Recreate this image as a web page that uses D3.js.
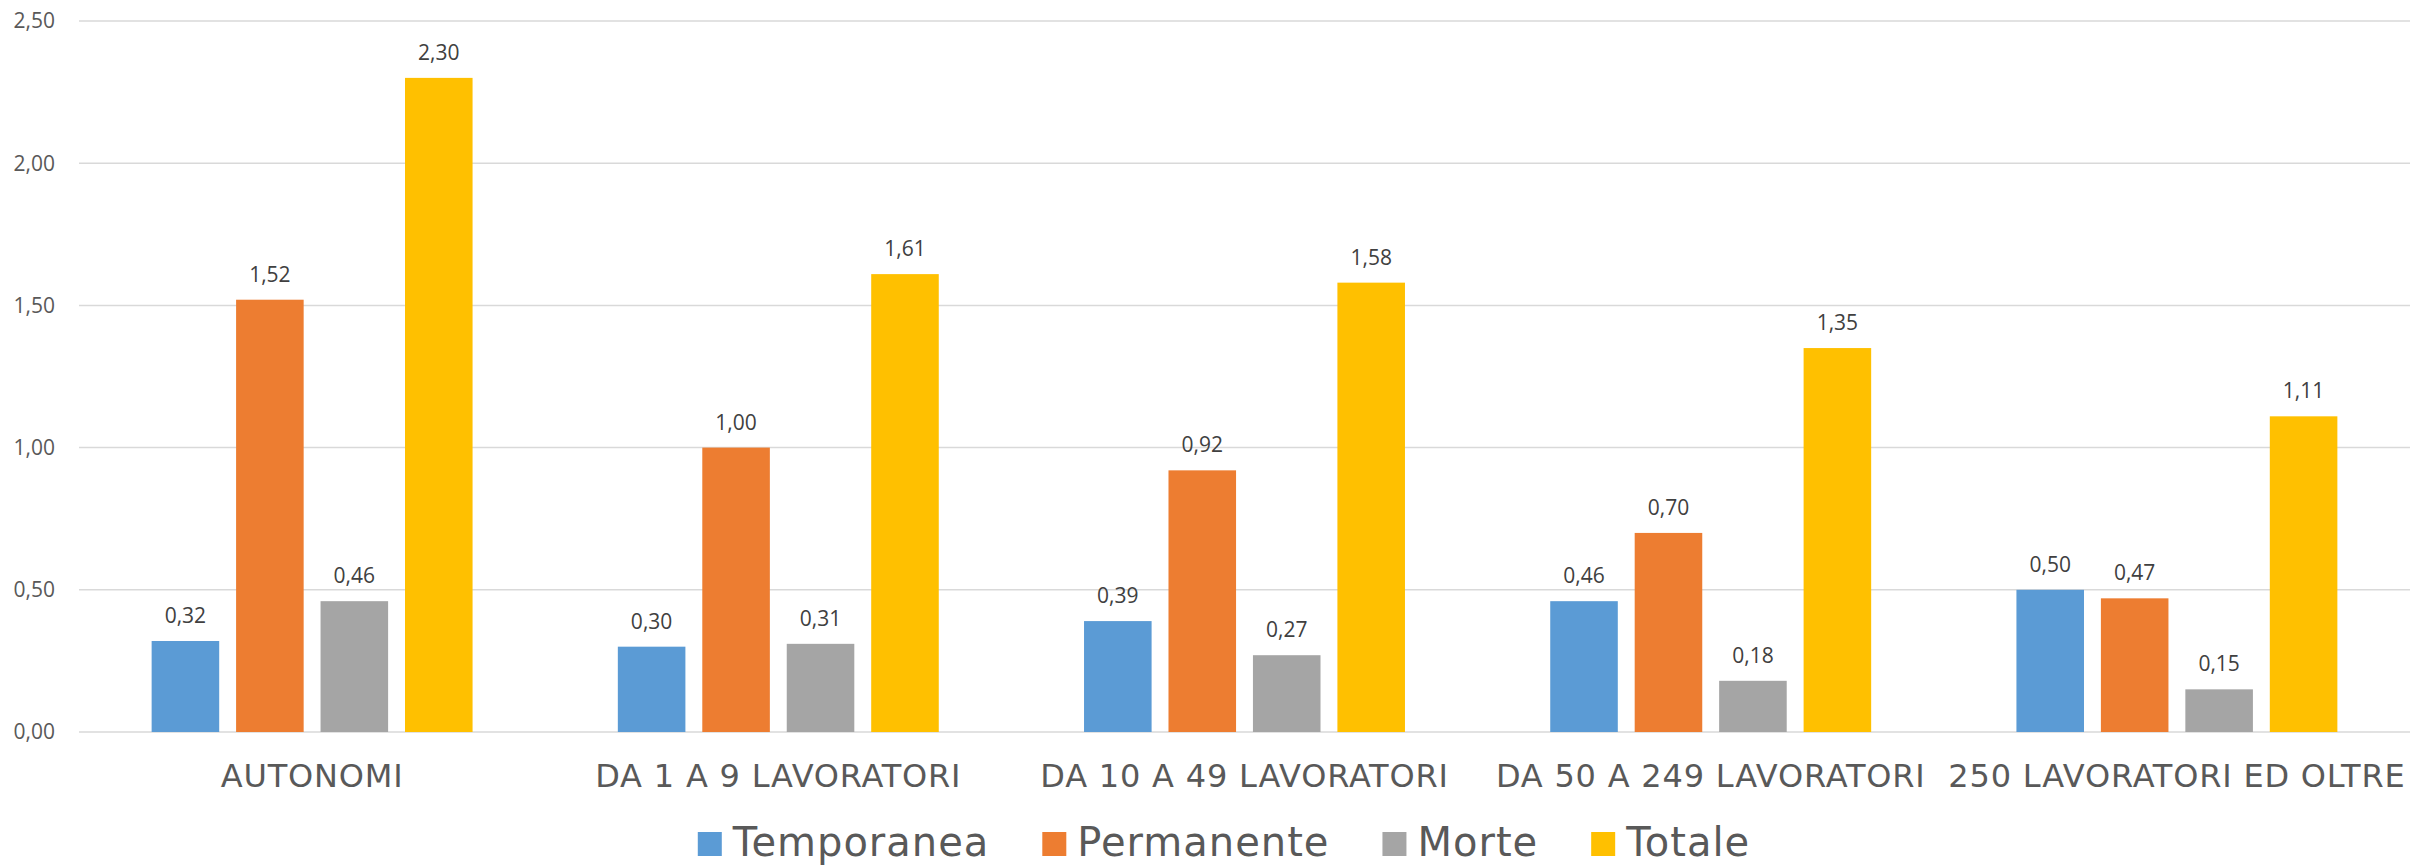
<!DOCTYPE html>
<html>
<head>
<meta charset="utf-8">
<script src="https://cdn.jsdelivr.net/npm/d3@7"></script>
<style>
  html, body { margin: 0; padding: 0; background: #fff; }
  svg { display: block; }
</style>
</head>
<body>
<div id="chart"></div>
<script>
// dati
const categories = ["AUTONOMI", "DA 1 A 9 LAVORATORI", "DA 10 A 49 LAVORATORI", "DA 50 A 249 LAVORATORI", "250 LAVORATORI ED OLTRE"];
const seriesNames = ["Temporanea", "Permanente", "Morte", "Totale"];
const temporanea = [0.32, 0.30, 0.39, 0.46, 0.50];
const permanente = [1.52, 1.00, 0.92, 0.70, 0.47];
const morte = [0.46, 0.31, 0.27, 0.18, 0.15];
const totale = [2.30, 1.61, 1.58, 1.35, 1.11];
const yTicks = [0, 0.5, 1, 1.5, 2, 2.5];
const colors = ["#5b9bd5", "#ed7d31", "#a5a5a5", "#ffc000"];

const series = [temporanea, permanente, morte, totale];

const width = 2410, height = 865;
const margin = { top: 21, right: 0, bottom: 133, left: 79 };

const svg = d3.select("#chart").append("svg")
    .attr("width", width)
    .attr("height", height);

const x0 = d3.scaleBand()
    .domain(categories)
    .range([margin.left, width - margin.right])
    .padding(0);

const x1 = d3.scaleBand()
    .domain(d3.range(seriesNames.length))
    .range([0, x0.bandwidth()])
    .paddingInner(0.2)
    .paddingOuter(0.86);

const y = d3.scaleLinear()
    .domain([0, 2.5])
    .range([height - margin.bottom, margin.top]);

const fmt = v => d3.format(".2f")(v).replace(".", ",");

// griglia
svg.append("g")
    .selectAll("line")
    .data(yTicks)
    .join("line")
    .attr("x1", margin.left)
    .attr("x2", width)
    .attr("y1", d => y(d))
    .attr("y2", d => y(d))
    .attr("stroke", "#d9d9d9")
    .attr("stroke-width", 1.5);

// etichette asse y
svg.append("g")
    .selectAll("text")
    .data(yTicks)
    .join("text")
    .attr("x", 55)
    .attr("y", d => y(d))
    .attr("dy", "0.35em")
    .attr("text-anchor", "end")
    .attr("font-family", "'Open Sans', sans-serif")
    .attr("font-size", 21)
    .attr("fill", "#595959")
    .text(fmt);

// barre
const groups = svg.append("g")
    .selectAll("g")
    .data(categories)
    .join("g")
    .attr("transform", d => "translate(" + x0(d) + ",0)");

groups.selectAll("rect")
    .data((d, i) => series.map((s, j) => ({ j: j, v: s[i] })))
    .join("rect")
    .attr("x", d => x1(d.j))
    .attr("width", x1.bandwidth())
    .attr("y", d => y(d.v))
    .attr("height", d => y(0) - y(d.v))
    .attr("fill", d => colors[d.j]);

groups.selectAll("text")
    .data((d, i) => series.map((s, j) => ({ j: j, v: s[i] })))
    .join("text")
    .attr("x", d => x1(d.j) + x1.bandwidth() / 2)
    .attr("y", d => y(d.v) - 18)
    .attr("text-anchor", "middle")
    .attr("font-family", "'Open Sans', sans-serif")
    .attr("font-size", 21)
    .attr("fill", "#404040")
    .text(d => fmt(d.v));

// etichette categorie
svg.append("g")
    .selectAll("text")
    .data(categories)
    .join("text")
    .attr("x", d => x0(d) + x0.bandwidth() / 2)
    .attr("y", 787)
    .attr("text-anchor", "middle")
    .attr("font-family", "'DejaVu Sans', sans-serif")
    .attr("font-size", 32)
    .attr("letter-spacing", 0.8)
    .attr("fill", "#595959")
    .text(d => d);

// legenda
const legend = svg.append("g");
let lx = 0;
seriesNames.forEach((name, i) => {
    const item = legend.append("g").attr("transform", "translate(" + lx + ",0)");
    item.append("rect")
        .attr("x", 0)
        .attr("y", 832)
        .attr("width", 24)
        .attr("height", 24)
        .attr("fill", colors[i]);
    const t = item.append("text")
        .attr("x", 35)
        .attr("y", 856)
        .attr("font-family", "'DejaVu Sans', sans-serif")
        .attr("font-size", 40)
        .attr("letter-spacing", 1)
        .attr("fill", "#595959")
        .text(name);
    lx += 35 + t.node().getComputedTextLength() + 53;
});
const legendWidth = lx - 53;
legend.attr("transform", "translate(" + (1224 - legendWidth / 2) + ",0)");
</script>
</body>
</html>
